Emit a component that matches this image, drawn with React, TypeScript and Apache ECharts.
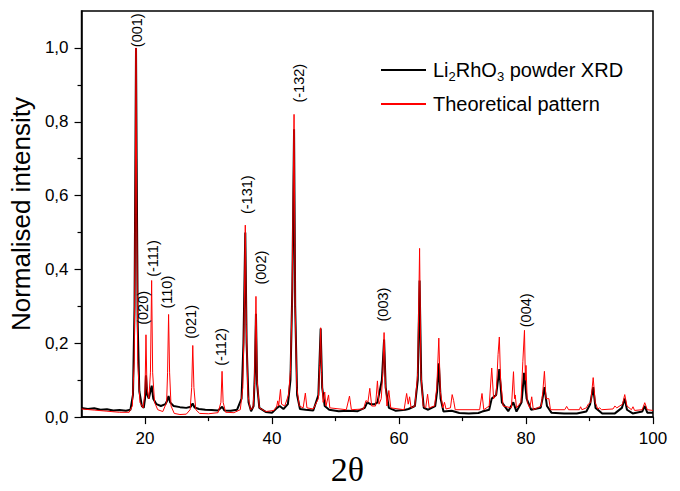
import React, { useEffect, useRef } from "react";
import * as echarts from "echarts";

// Experimental powder XRD (black)
const expTheta = [
  10, 11, 12, 13, 14, 15, 16, 17, 17.7, 18.1, 18.35, 18.5, 18.58, 18.68, 18.85, 19.1, 19.5, 19.8,
  20.0, 20.15, 20.35, 20.6, 20.85, 21.05, 21.3, 21.8, 22.5, 23.2, 23.5, 23.7, 23.95, 24.5, 25.5,
  26.5, 27.2, 27.5, 27.8, 28.5, 29.5, 30.5, 31.5, 32.15, 32.5, 33.5, 34.5, 35.2, 35.5, 35.79, 36.0,
  36.3, 36.7, 37.1, 37.3, 37.47, 37.65, 38.0, 39.0, 40.0, 40.8, 41.2, 41.8, 42.5, 42.9, 43.2, 43.47,
  43.65, 43.95, 44.4, 45.3, 46.5, 47.3, 47.66, 47.9, 48.3, 49.0, 50.5, 52.0, 53.5, 54.6, 55.0, 55.5,
  56.2, 56.6, 57.3, 57.65, 57.9, 58.4, 59.5, 61.0, 61.5, 62.5, 62.95, 63.24, 63.5, 63.9, 64.6, 65.7,
  66.0, 66.27, 66.55, 67.0, 68.3, 69.5, 71.0, 72.5, 73.1, 74.2, 74.6, 75.3, 75.8, 76.2, 77.2, 78.0,
  78.5, 79.3, 79.7, 80.1, 80.8, 82.3, 82.6, 82.9, 83.3, 84.0, 86.0, 88.0, 89.5, 90.1, 90.58, 90.95,
  92.0, 94.0, 95.1, 95.55, 95.9, 96.8, 98.3, 98.7, 99.1, 100
];
const expIntensity = [
  0.025, 0.022, 0.024, 0.02, 0.021, 0.018, 0.019, 0.017, 0.02, 0.06, 0.3, 0.75, 1.0, 0.7, 0.25, 0.07, 0.03, 0.025,
  0.05, 0.113, 0.06, 0.05, 0.07, 0.085, 0.05, 0.035, 0.03, 0.035, 0.045, 0.057, 0.04, 0.03, 0.027,
  0.025, 0.028, 0.037, 0.026, 0.022, 0.02, 0.019, 0.018, 0.028, 0.018, 0.017, 0.02, 0.05, 0.2, 0.5, 0.2,
  0.04, 0.016, 0.03, 0.12, 0.28, 0.09, 0.025, 0.014, 0.012, 0.025, 0.03, 0.022, 0.035, 0.1, 0.35, 0.78,
  0.3, 0.06, 0.022, 0.02, 0.018, 0.06, 0.24, 0.08, 0.03, 0.02, 0.016, 0.017, 0.016, 0.025, 0.04, 0.035,
  0.035, 0.04, 0.1, 0.21, 0.08, 0.025, 0.017, 0.02, 0.022, 0.03, 0.1, 0.37, 0.1, 0.025, 0.02, 0.03,
  0.07, 0.146, 0.05, 0.015, 0.017, 0.011, 0.01, 0.011, 0.015, 0.02, 0.05, 0.06, 0.13, 0.04, 0.016, 0.04,
  0.015, 0.04, 0.12, 0.05, 0.02, 0.025, 0.05, 0.081, 0.03, 0.012, 0.01, 0.01, 0.015, 0.035, 0.081, 0.025,
  0.01, 0.01, 0.025, 0.05, 0.02, 0.01, 0.015, 0.03, 0.012, 0.012
];

// Theoretical pattern (red)
const calcTheta = [
  10, 12, 14, 16, 17.5, 18.0, 18.3, 18.45, 18.58, 18.7, 18.85, 19.2, 19.7, 20.0, 20.15, 20.3, 20.6,
  20.85, 21.04, 21.2, 21.5, 22.0, 22.8, 23.4, 23.55, 23.71, 23.87, 24.1, 24.6, 25.5, 26.5, 27.1, 27.35,
  27.52, 27.7, 28.0, 28.6, 30, 31.5, 31.95, 32.13, 32.3, 32.7, 34, 35.0, 35.4, 35.6, 35.79, 35.95, 36.2,
  36.6, 37.0, 37.25, 37.47, 37.65, 38.0, 39.0, 40.3, 40.75, 40.9, 41.05, 41.33, 41.5, 42.0, 42.6, 42.9,
  43.15, 43.47, 43.65, 43.9, 44.3, 44.9, 45.25, 45.5, 46.5, 47.3, 47.5, 47.66, 47.8, 48.05, 48.3, 48.5,
  48.9, 49.1, 51.7, 52.2, 52.5, 54.4, 54.8, 55.1, 55.4, 55.7, 56.3, 56.6, 56.85, 57.2, 57.45, 57.65,
  57.85, 58.1, 58.4, 58.7, 60.8, 61.2, 61.45, 61.67, 61.9, 62.5, 62.95, 63.24, 63.45, 63.8, 64.2, 64.5,
  64.75, 65.6, 65.95, 66.27, 66.5, 66.9, 67.16, 67.4, 68.1, 68.37, 68.6, 68.85, 72.7, 73.07, 73.35,
  74.2, 74.6, 74.9, 75.3, 75.6, 75.8, 76.0, 76.4, 77.7, 78.03, 78.2, 78.3, 78.5, 79.2, 79.5, 79.76,
  79.9, 80.0, 80.2, 80.6, 80.9, 81.15, 82.4, 82.65, 82.9, 83.15, 83.6, 83.85, 86.1, 86.4, 86.7, 88.4,
  88.6, 88.8, 89.5, 89.8, 90.2, 90.58, 90.9, 91.3, 91.6, 91.9, 93.7, 94.0, 94.3, 95.2, 95.55, 95.9,
  96.6, 96.85, 97.1, 98.3, 98.7, 99.1, 100
];
const calcIntensity = [
  0.022, 0.019, 0.016, 0.013, 0.013, 0.03, 0.15, 0.55, 1.0, 0.55, 0.15, 0.04, 0.025, 0.07, 0.223, 0.08, 0.05,
  0.12, 0.37, 0.12, 0.04, 0.02, 0.015, 0.04, 0.12, 0.278, 0.12, 0.03, 0.01, 0.007, 0.008, 0.02, 0.08,
  0.194, 0.08, 0.02, 0.01, 0.009, 0.012, 0.04, 0.124, 0.04, 0.013, 0.012, 0.02, 0.08, 0.25, 0.52, 0.25, 0.06,
  0.02, 0.025, 0.09, 0.327, 0.1, 0.025, 0.015, 0.018, 0.03, 0.044, 0.03, 0.075, 0.035, 0.03, 0.06, 0.124,
  0.3, 0.82, 0.3, 0.08, 0.03, 0.025, 0.065, 0.025, 0.022, 0.05, 0.14, 0.242, 0.12, 0.04, 0.068, 0.03,
  0.06, 0.025, 0.02, 0.057, 0.02, 0.022, 0.045, 0.04, 0.078, 0.03, 0.03, 0.098, 0.035, 0.05, 0.12, 0.229,
  0.09, 0.03, 0.072, 0.025, 0.02, 0.064, 0.035, 0.055, 0.025, 0.03, 0.12, 0.457, 0.12, 0.03, 0.025, 0.062,
  0.025, 0.03, 0.08, 0.214, 0.07, 0.025, 0.04, 0.022, 0.025, 0.061, 0.045, 0.02, 0.02, 0.064, 0.02,
  0.03, 0.133, 0.05, 0.06, 0.17, 0.217, 0.1, 0.03, 0.025, 0.123, 0.05, 0.06, 0.025, 0.04, 0.15, 0.235,
  0.1, 0.14, 0.04, 0.025, 0.055, 0.02, 0.03, 0.07, 0.124, 0.05, 0.05, 0.02, 0.02, 0.029, 0.02, 0.02,
  0.028, 0.02, 0.025, 0.035, 0.04, 0.107, 0.04, 0.022, 0.025, 0.02, 0.022, 0.03, 0.025, 0.035, 0.061, 0.03,
  0.02, 0.028, 0.018, 0.02, 0.039, 0.02, 0.018
];

// Miller index annotations
const peakNames = ["(001)", "(020)", "(-111)", "(110)", "(021)", "(-112)", "(-131)", "(002)", "(-132)", "(003)", "(004)"];
const peakLabelTheta = [18.69, 19.74, 21.2, 23.5, 27.3, 32.0, 36.05, 38.2, 44.2, 57.55, 80.0];
const peakLabelIntensity = [1.002, 0.25, 0.38, 0.294, 0.212, 0.139, 0.55, 0.359, 0.852, 0.259, 0.2435];

const xMajorTicks = [20, 40, 60, 80, 100];
const xMinorTicks = [30, 50, 70, 90];
const yMajorTicks = [0, 0.2, 0.4, 0.6, 0.8, 1.0];
const yMinorTicks = [0.1, 0.3, 0.5, 0.7, 0.9];

const SANS = "'Liberation Sans', Arial, sans-serif";

export default function App() {
  const ref = useRef<HTMLDivElement>(null);
  useEffect(() => {
    const chart = echarts.init(ref.current!, null, { renderer: "svg" });
    const expData = expTheta.map((t, i) => [t, expIntensity[i]]);
    const calcData = calcTheta.map((t, i) => [t, calcIntensity[i]]);
    const labelData = peakLabelTheta.map((t, i) => ({ value: [t, peakLabelIntensity[i]], name: peakNames[i] }));

    const legendCommon = {
      left: 380,
      padding: 0,
      itemWidth: 45,
      itemHeight: 12,
      selectedMode: false,
      itemStyle: { opacity: 0 },
    };

    const option: any = {
      animation: false,
      backgroundColor: "#fff",
      grid: {
        left: 80,
        right: 27,
        top: 11,
        bottom: 58,
        show: true,
        borderColor: "#000",
        borderWidth: 1.5,
        backgroundColor: "transparent",
      },
      legend: [
        {
          ...legendCommon,
          data: ["Li2RhO3 powder XRD"],
          top: 60,
          formatter: () => "{n|Li}{s|2}{n|RhO}{s|3}{n| powder XRD}",
          textStyle: {
            color: "#000",
            fontFamily: SANS,
            fontSize: 20,
            padding: [0, 0, 0, 2],
            rich: {
              n: { fontSize: 20, fontFamily: SANS, color: "#000" },
              s: { fontSize: 13, fontFamily: SANS, color: "#000", padding: [12, 0, 0, 0] },
            },
          },
        },
        {
          ...legendCommon,
          data: ["Theoretical pattern"],
          top: 94,
          textStyle: { color: "#000", fontFamily: SANS, fontSize: 20, padding: [0, 0, 0, 2] },
        },
      ],
      xAxis: [
        {
          type: "value",
          min: 10,
          max: 100,
          position: "bottom",
          name: "2θ",
          nameLocation: "middle",
          nameGap: 22,
          nameTextStyle: {
            fontFamily: "'Liberation Serif', 'Times New Roman', serif",
            fontSize: 34,
            color: "#000",
            padding: [0, 40, 0, 0],
          },
          axisLine: { show: true, lineStyle: { color: "#000", width: 1.5 } },
          axisTick: { show: true, length: 7, customValues: xMajorTicks, lineStyle: { color: "#000", width: 1.2 } },
          axisLabel: {
            customValues: xMajorTicks,
            margin: 13,
            color: "#000",
            fontFamily: SANS,
            fontSize: 17,
          },
          splitLine: { show: false },
        },
        {
          type: "value",
          min: 10,
          max: 100,
          position: "bottom",
          axisLine: { show: false },
          axisTick: { show: true, length: 4, customValues: xMinorTicks, lineStyle: { color: "#000", width: 1.2 } },
          axisLabel: { show: false },
          splitLine: { show: false },
        },
      ],
      yAxis: [
        {
          type: "value",
          min: 0,
          max: 1.1,
          position: "left",
          name: "Normalised intensity",
          nameLocation: "middle",
          nameGap: 43,
          nameTextStyle: { fontFamily: SANS, fontSize: 26, color: "#000" },
          axisLine: { show: true, lineStyle: { color: "#000", width: 1.5 } },
          axisTick: { show: true, length: 7, customValues: yMajorTicks, lineStyle: { color: "#000", width: 1.2 } },
          axisLabel: {
            customValues: yMajorTicks,
            margin: 13,
            color: "#000",
            fontFamily: SANS,
            fontSize: 17,
            formatter: (v: number) => v.toFixed(1).replace(".", ","),
          },
          splitLine: { show: false },
        },
        {
          type: "value",
          min: 0,
          max: 1.1,
          position: "left",
          axisLine: { show: false },
          axisTick: { show: true, length: 4, customValues: yMinorTicks, lineStyle: { color: "#000", width: 1.2 } },
          axisLabel: { show: false },
          splitLine: { show: false },
        },
      ],
      series: [
        {
          name: "Li2RhO3 powder XRD",
          type: "line",
          data: expData,
          symbol: "none",
          lineStyle: { color: "#000", width: 2 },
          itemStyle: { color: "#000" },
          z: 2,
          silent: true,
        },
        {
          name: "Theoretical pattern",
          type: "line",
          data: calcData,
          symbol: "none",
          lineStyle: { color: "#ff0000", width: 1 },
          itemStyle: { color: "#ff0000" },
          z: 3,
          silent: true,
        },
        {
          name: "labels",
          type: "scatter",
          data: labelData,
          symbolSize: 0.1,
          itemStyle: { color: "rgba(0,0,0,0)" },
          silent: true,
          z: 4,
          label: {
            show: true,
            position: "inside",
            rotate: 90,
            align: "left",
            verticalAlign: "middle",
            distance: 0,
            formatter: (p: any) => p.name,
            color: "#000",
            opacity: 1,
            textBorderWidth: 0,
            fontFamily: SANS,
            fontSize: 14.5,
          },
        },
      ],
    };
    chart.setOption(option);
    return () => chart.dispose();
  }, []);
  return (
    <div
      ref={ref}
      style={{ position: "fixed", left: 0, top: 0, width: 680, height: 491, background: "#fff" }}
    />
  );
}
